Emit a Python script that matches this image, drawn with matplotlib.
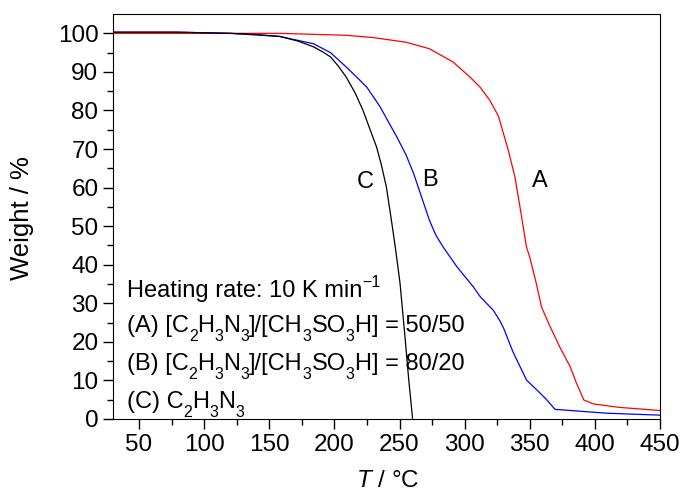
import matplotlib.pyplot as plt
import matplotlib.transforms as mtransforms
import numpy as np

plt.rcParams['font.family'] = ['Liberation Sans', 'DejaVu Sans']
plt.rcParams['mathtext.fontset'] = 'custom'
plt.rcParams['mathtext.rm'] = 'Liberation Sans'
plt.rcParams['mathtext.it'] = 'Liberation Sans:italic'

# TGA curves (T in degC, weight in %)
t_a = [30, 100, 158, 209, 230, 255, 273, 291, 304, 312, 319.4, 326, 333.5, 338.6,
       342.5, 347.5, 350, 355, 359, 364.5, 373, 381, 386, 391.6, 399, 419, 450]
w_a = [100, 100, 100, 99.5, 98.9, 97.7, 96, 92.6, 88.7, 86, 82.6, 78.5, 69.7, 62.8,
       55, 44.6, 42, 35.2, 29.1, 24.8, 18.7, 13.6, 9.2, 4.9, 3.9, 3.0, 2.2]

t_b = [30, 80, 120, 158, 184, 197, 209, 217, 225, 235, 248, 255, 261, 267, 273,
       278, 283.5, 294, 306.6, 312, 319.4, 322, 327, 330, 337, 347.5, 358, 363,
       369.4, 409, 450]
w_b = [100.3, 100.3, 100, 99.2, 97.3, 95, 91.3, 88.7, 86, 81, 73.1, 68.5, 63.5, 57.5,
       51.5, 47.6, 44.6, 39.5, 34.3, 31.7, 29.1, 28.2, 25.5, 23.5, 17.5, 10.1, 6.7,
       5, 2.5, 1.5, 1.0]

t_c = [30, 80, 120, 140, 158, 172, 184, 191, 197, 203, 209, 216, 222, 228, 232.4,
       236, 240, 244, 247, 250.4, 254.2, 257, 260]
w_c = [100.3, 100.3, 100, 99.7, 99.2, 98, 96.5, 95.2, 93.9, 91.5, 88.7, 84.5, 80, 74.5,
       70.5, 66, 60, 51, 44, 35.2, 21.3, 10.5, 0.2]

# note lines: '_x' = subscript x, '^{..}' = superscript
notes = ['Heating rate: 10 K min^{−1}',
         '(A) [C_2H_3N_3]/[CH_3SO_3H] = 50/50',
         '(B) [C_2H_3N_3]/[CH_3SO_3H] = 80/20',
         '(C) C_2H_3N_3']
note_y = [31.7, 22.6, 12.7, 2.8]

fig = plt.figure(figsize=(6.82, 4.92), dpi=100)
ax = fig.add_axes([0.1657, 0.1484, 0.802, 0.823])

ax.plot(t_a, w_a, color='#ff0000', lw=0.9)
ax.plot(t_b, w_b, color='#0000ff', lw=0.9)
ax.plot(t_c, w_c, color='#000000', lw=0.9)

ax.text(224, 61.4, 'C', fontsize=17, ha='center', va='center')
ax.text(273.4, 62, 'B', fontsize=17, ha='center', va='center')
ax.text(357.8, 61.7, 'A', fontsize=17, ha='center', va='center')


def split_parts(s):
    parts = []
    buf = ''
    i = 0
    while i < len(s):
        c = s[i]
        if c == '_':
            if buf:
                parts.append((buf, 0))
                buf = ''
            parts.append((s[i + 1], -1))
            i += 2
        elif c == '^':
            if buf:
                parts.append((buf, 0))
                buf = ''
            j = s.index('}', i)
            parts.append((s[i + 2:j], 1))
            i = j + 1
        else:
            buf += c
            i += 1
    if buf:
        parts.append((buf, 0))
    return parts


def rich_text(x, y, s, size=17, small=11.5):
    r = fig.canvas.get_renderer()
    dx = 0
    for piece, kind in split_parts(s):
        fs = size if kind == 0 else small
        dy = {0: 0, -1: -9, 1: 10}[kind]
        tr = mtransforms.offset_copy(ax.transData, fig=fig, x=dx, y=dy, units='dots')
        t = ax.text(x, y, piece, fontsize=fs, transform=tr, ha='left', va='baseline')
        dx += t.get_window_extent(r).width


ax.set_xlim(30, 450)
ax.set_ylim(0, 105)

for s, y in zip(notes, note_y):
    rich_text(40.7, y, s)

ax.set_xticks(np.arange(50, 451, 50))
ax.set_xticks(np.arange(75, 450, 50), minor=True)
ax.set_yticks(np.arange(0, 101, 10))
ax.set_yticks(np.arange(5, 100, 10), minor=True)
ax.tick_params(which='both', direction='out', top=False, right=False, labelsize=17.5)
ax.tick_params(which='major', length=7, width=1)
ax.tick_params(which='minor', length=4, width=1)

ax.set_xlabel('$\\mathit{T}$ / °C', fontsize=17.5)
ax.set_ylabel('Weight / %', fontsize=18.5)
ax.xaxis.set_label_coords(0.502, -0.127)
ax.yaxis.set_label_coords(-0.166, 0.496)
ax.yaxis.label.set_va('center')

fig.savefig('out.png')
